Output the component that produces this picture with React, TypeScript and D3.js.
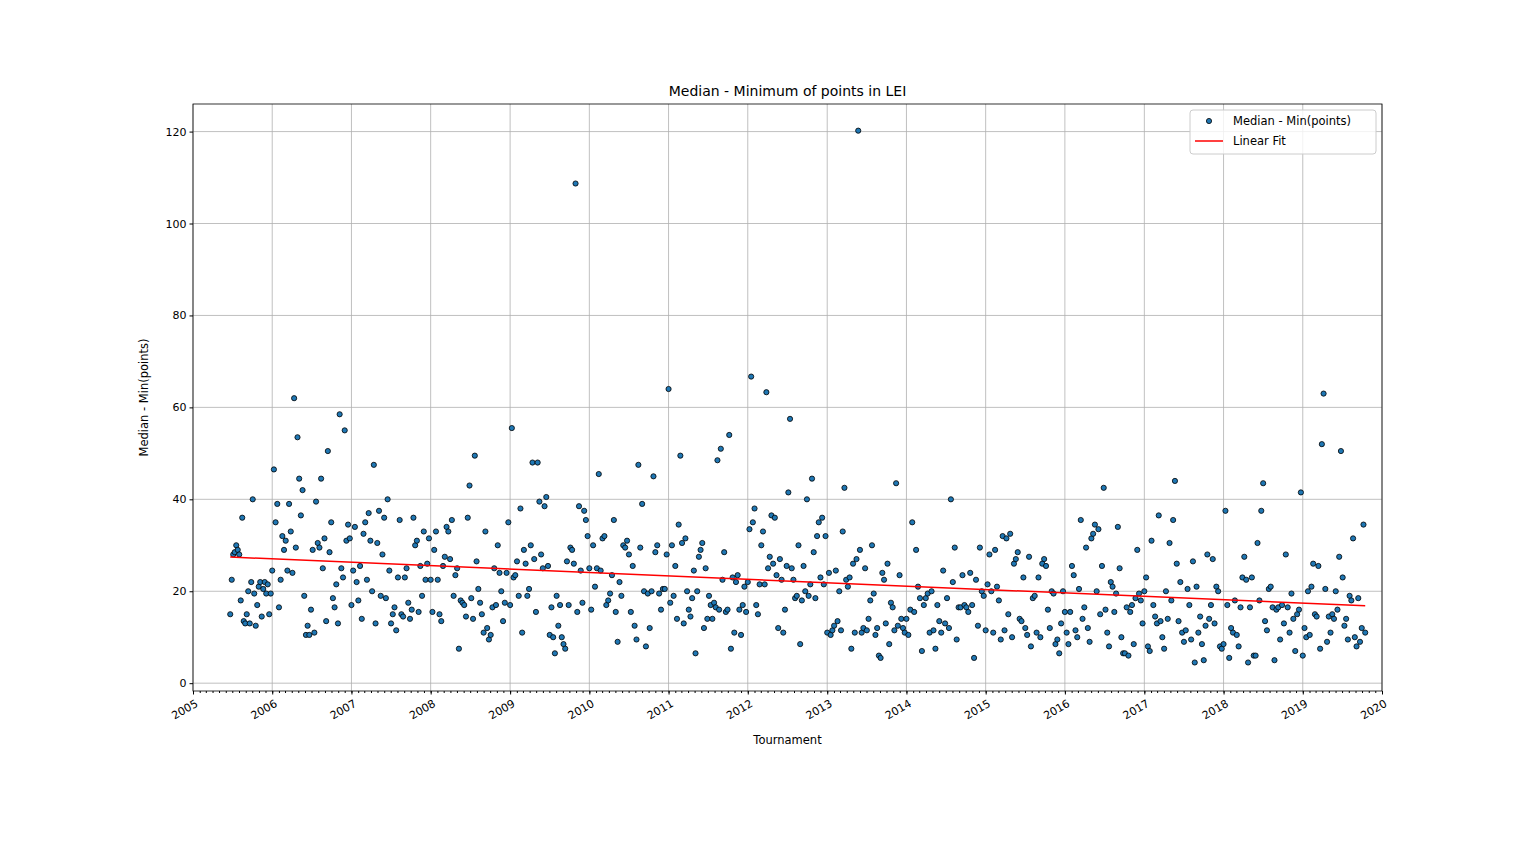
import React, { useRef, useEffect } from "react";
import * as d3 from "d3";

// weekly values per year
const y2005 = [15, 22.5, 28, 28.5, 30, 29, 28, 18, 36, 13.5, 13, 15, 20, 13, 22, 40, 19.5, 12.5, 17, 21, 22, 14.5, 20.5, 22, 19.5, 21.5, 15, 19.5];
const y2006 = [24.5, 46.5, 35, 39, 16.5, 22.5, 32, 29, 31, 24.5, 39, 33, 24, 62, 29.5, 53.5, 44.5, 36.5, 42, 19, 10.5, 12.5, 10.5, 16, 29, 11, 39.5, 30.5, 29.5, 44.5, 25, 31.5, 13.5, 50.5, 28.5, 35, 18.5, 16.5, 21.5, 13, 58.5, 25, 23, 55, 31, 34.5, 31.5];
const y2007 = [17, 24.5, 34, 22, 18, 25.5, 14, 32.5, 35, 22.5, 37, 31, 20, 47.5, 13, 30.5, 37.5, 19, 28, 36, 18.5, 40, 24.5, 13, 15, 16.5, 11.5, 23, 35.5, 15, 14.5, 23, 25, 17.5, 14, 16, 36, 30, 31, 15.5, 25.5, 19, 33, 22.5, 26, 31.5];
const y2008 = [22.5, 15.5, 29, 33, 22.5, 15, 13.5, 25.5, 27.5, 34, 33, 27, 35.5, 19, 23.5, 25, 7.5, 18, 17.5, 17, 14.5, 36, 43, 18.5, 14, 49.5, 26.5, 20.5, 17.5, 15, 11, 33, 12, 9.5, 10.5, 16.5, 25, 17, 30, 24, 20, 13.5, 17.5, 24, 35];
const y2009 = [17, 55.5, 23, 23.5, 26.5, 19, 38, 11, 29, 26, 19, 20.5, 30, 48, 27, 15.5, 48, 39.5, 28, 25, 38.5, 40.5, 25.5, 10.5, 16.5, 10, 6.5, 19, 12.5, 17, 10, 8.5, 7.5, 26.5, 17, 29.5, 29, 26, 108.7, 15.5, 38.5, 24.5, 17.5, 37.5, 35.5, 32];
const y2010 = [25, 16, 30, 21, 25, 45.5, 24.5, 31.5, 32, 17, 18, 19.5, 23.5, 35.5, 15.5, 9, 22, 19, 30, 29.5, 31, 28, 15.5, 25.5, 12.5, 9.5, 47.5, 29.5, 39, 20, 8, 19.5, 12, 20, 45, 28.5, 30, 19.5, 16, 20.5, 20.5, 28];
const y2011 = [64, 17.5, 30, 19, 25.5, 14, 34.5, 49.5, 30.5, 13, 31.5, 20, 16, 14.5, 18.5, 24.5, 6.5, 20, 27.5, 29, 30.5, 12, 25, 14, 19, 17, 14, 17.5, 16.5, 48.5, 16, 51, 22.5, 28.5, 15.5, 16, 54, 7.5, 23, 11, 22, 23.5, 16, 10.5, 17, 21, 15.5];
const y2012 = [22, 33.5, 66.7, 35, 38, 17, 15, 21.5, 30, 33, 21.5, 63.3, 25, 27.5, 36.5, 26, 36, 23.5, 12, 27, 22.5, 11, 16, 25.5, 41.5, 57.5, 25, 22.5, 18.5, 19, 30, 8.5, 18, 25.5, 20, 40, 19, 21.5, 44.5, 28.5, 18.5, 32, 35, 23, 36, 21.5, 32];
const y2013 = [11, 24, 10.5, 11.5, 12.5, 24.5, 13.5, 20, 11.5, 33, 42.5, 22.5, 21, 23, 7.5, 26, 11, 27, 120.2, 29, 11, 12, 25, 11.5, 14, 18, 30, 19.5, 10.5, 12, 6, 5.5, 24, 22.5, 13, 26, 8.5, 17.5, 16.5, 11.5, 43.5, 12.5, 23.5, 14, 12, 11];
const y2014 = [14, 10.5, 16, 35, 15.5, 29, 21, 18.5, 7, 17, 18.5, 19.5, 11, 20, 11.5, 7.5, 17, 13.5, 11, 24.5, 13, 18.5, 12, 40, 22, 29.5, 9.5, 16.5, 16.5, 23.5, 17, 16.5, 15.5, 24, 17, 5.5, 22.5, 12.5, 29.5, 20, 19];
const y2015 = [11.5, 21.5, 28, 20, 11, 29, 21, 18, 9.5, 32, 11.5, 31.5, 15, 32.5, 10, 26, 27, 28.5, 14, 13.5, 23, 12, 10.5, 27.5, 8, 18.5, 19, 11, 23, 10, 26, 27, 25.5, 16, 12, 20, 19.5, 8.5, 9.5, 6.5, 13, 20];
const y2016 = [15.5, 11, 8.5, 15.5, 25.5, 23.5, 11.5, 10, 20.5, 35.5, 14, 16.5, 29.5, 12, 9, 31.5, 32.5, 34.5, 20, 33.5, 15, 25.5, 42.5, 16, 11, 8, 22, 21, 15.5, 19.5, 34, 25, 10, 6.5, 6.5, 16.5, 6, 15.5, 17, 8.5, 18.5, 29, 19.5, 18, 13];
const y2017 = [20, 23, 8, 7, 31, 17, 14.5, 13, 36.5, 13.5, 10, 7.5, 20, 14, 30.5, 18, 35.5, 44, 26, 13.5, 22, 11, 9, 11.5, 20.5, 17, 9.5, 26.5, 4.5, 21, 11, 14.5, 8.5, 5, 12.5, 28, 14, 17, 27, 13, 21, 20, 8, 7.5];
const y2018 = [8.5, 37.5, 17, 5.5, 12, 11, 18, 10.5, 8, 16.5, 23, 27.5, 22.5, 4.5, 16.5, 23, 6, 6, 30.5, 18, 37.5, 43.5, 13.5, 11.5, 20.5, 21, 16.5, 5, 16, 16.5, 9.5, 17, 13, 28, 16.5, 11, 19.5, 14, 7, 15, 16, 41.5];
const y2019 = [6, 12, 10, 20, 10.5, 21, 26, 15, 14.5, 25.5, 7.5, 52, 63, 20.5, 9, 14.5, 11, 15, 14, 20, 16, 27.5, 50.5, 23, 12.5, 14, 9.5, 19, 18, 31.5, 10, 8, 18.5, 9, 12, 34.5, 11];

const years = [2005, 2006, 2007, 2008, 2009, 2010, 2011, 2012, 2013, 2014, 2015, 2016, 2017, 2018, 2019];
const series = [y2005, y2006, y2007, y2008, y2009, y2010, y2011, y2012, y2013, y2014, y2015, y2016, y2017, y2018, y2019];
const yTicks = [0, 20, 40, 60, 80, 100, 120];

const W = 1536, H = 864;
const margin = { left: 193, right: 154, top: 104, bottom: 173 };

export default function App() {
  const svgRef = useRef<SVGSVGElement | null>(null);

  useEffect(() => {
    if (!svgRef.current) return;
    const svg = d3.select(svgRef.current);
    svg.selectAll("*").remove();

    // spread each year's tournaments over the season
    const points: { t: number; v: number }[] = [];
    series.forEach((vals, k) => {
      const yr = years[k];
      const start = yr === 2005 ? 0.47 : 0;
      const end = yr === 2019 ? 0.81 : 1;
      vals.forEach((v, i) => points.push({ t: yr + start + ((end - start) * i) / vals.length, v }));
    });
    const toDate = (t: number) => {
      const y = Math.floor(t);
      const a = new Date(y, 0, 1).getTime(), b = new Date(y + 1, 0, 1).getTime();
      return new Date(a + (b - a) * (t - y));
    };

    const x = d3.scaleTime().domain([new Date(2005, 0, 1), new Date(2020, 0, 1)]).range([margin.left, W - margin.right]);
    const y = d3.scaleLinear().domain([-1.7, 126]).range([H - margin.bottom, margin.top]);
    const font = "DejaVu Sans, sans-serif";

    // grid
    const g = svg.append("g");
    const yearTicks = x.ticks(d3.timeYear.every(1)!);
    g.selectAll(".gx").data(yearTicks).enter().append("line")
      .attr("x1", (d) => x(d)).attr("x2", (d) => x(d))
      .attr("y1", margin.top).attr("y2", H - margin.bottom)
      .attr("stroke", "#b0b0b0").attr("stroke-width", 0.8);
    g.selectAll(".gy").data(yTicks).enter().append("line")
      .attr("x1", margin.left).attr("x2", W - margin.right)
      .attr("y1", (d) => y(d)).attr("y2", (d) => y(d))
      .attr("stroke", "#b0b0b0").attr("stroke-width", 0.8);

    // points
    svg.append("g").selectAll("circle").data(points).enter().append("circle")
      .attr("cx", (d) => x(toDate(d.t))).attr("cy", (d) => y(d.v)).attr("r", 2.6)
      .attr("fill", "#1f77b4").attr("stroke", "#000").attr("stroke-width", 0.8);

    // linear fit
    const mt = d3.mean(points, (d) => d.t)!, mv = d3.mean(points, (d) => d.v)!;
    const slope = d3.sum(points, (d) => (d.t - mt) * (d.v - mv)) / d3.sum(points, (d) => (d.t - mt) ** 2);
    const t0 = points[0].t, t1 = points[points.length - 1].t;
    svg.append("line")
      .attr("x1", x(toDate(t0))).attr("y1", y(mv + slope * (t0 - mt)))
      .attr("x2", x(toDate(t1))).attr("y2", y(mv + slope * (t1 - mt)))
      .attr("stroke", "red").attr("stroke-width", 1.5);

    // axes
    const xAxis = svg.append("g").attr("transform", `translate(0,${H - margin.bottom})`)
      .call(d3.axisBottom(x).ticks(d3.timeYear.every(1)!).tickFormat(d3.timeFormat("%Y") as any).tickSizeOuter(0).tickSize(3.5));
    xAxis.selectAll("text").attr("font-family", font).attr("font-size", 11).attr("fill", "#000")
      .attr("text-anchor", "end").attr("dx", "0").attr("dy", "0")
      .attr("transform", "translate(2,9) rotate(-30)");
    xAxis.select(".domain").remove();
    svg.append("g").attr("transform", `translate(0,${H - margin.bottom})`)
      .call(d3.axisBottom(x).ticks(d3.timeMonth.every(1)!).tickFormat(() => "").tickSize(2).tickSizeOuter(0))
      .select(".domain").remove();

    const yAxis = svg.append("g").attr("transform", `translate(${margin.left},0)`)
      .call(d3.axisLeft(y).tickValues(yTicks).tickSize(3.5).tickSizeOuter(0));
    yAxis.select(".domain").remove();
    yAxis.selectAll("text").attr("font-family", font).attr("font-size", 11).attr("fill", "#000");

    svg.append("rect").attr("x", margin.left).attr("y", margin.top)
      .attr("width", W - margin.left - margin.right).attr("height", H - margin.top - margin.bottom)
      .attr("fill", "none").attr("stroke", "#000").attr("stroke-width", 0.8);

    // labels
    svg.append("text").attr("x", (margin.left + W - margin.right) / 2).attr("y", 96)
      .attr("text-anchor", "middle").attr("font-family", font).attr("font-size", 14).text("Median - Minimum of points in LEI");
    svg.append("text").attr("x", (margin.left + W - margin.right) / 2).attr("y", 744)
      .attr("text-anchor", "middle").attr("font-family", font).attr("font-size", 11.5).text("Tournament");
    svg.append("text").attr("transform", `translate(148,${(margin.top + H - margin.bottom) / 2}) rotate(-90)`)
      .attr("text-anchor", "middle").attr("font-family", font).attr("font-size", 11.5).text("Median - Min(points)");

    // legend
    const lg = svg.append("g").attr("transform", "translate(1190,110)");
    lg.append("rect").attr("width", 186).attr("height", 44).attr("rx", 3)
      .attr("fill", "#fff").attr("fill-opacity", 0.8).attr("stroke", "#ccc");
    lg.append("circle").attr("cx", 19).attr("cy", 11).attr("r", 2.6)
      .attr("fill", "#1f77b4").attr("stroke", "#000").attr("stroke-width", 0.8);
    lg.append("line").attr("x1", 5).attr("x2", 33).attr("y1", 31).attr("y2", 31).attr("stroke", "red").attr("stroke-width", 1.5);
    lg.append("text").attr("x", 43).attr("y", 15).attr("font-family", font).attr("font-size", 11.5).text("Median - Min(points)");
    lg.append("text").attr("x", 43).attr("y", 35).attr("font-family", font).attr("font-size", 11.5).text("Linear Fit");
  }, []);

  return <svg ref={svgRef} width={W} height={H} style={{ position: "absolute", left: 0, top: 0 }} />;
}
